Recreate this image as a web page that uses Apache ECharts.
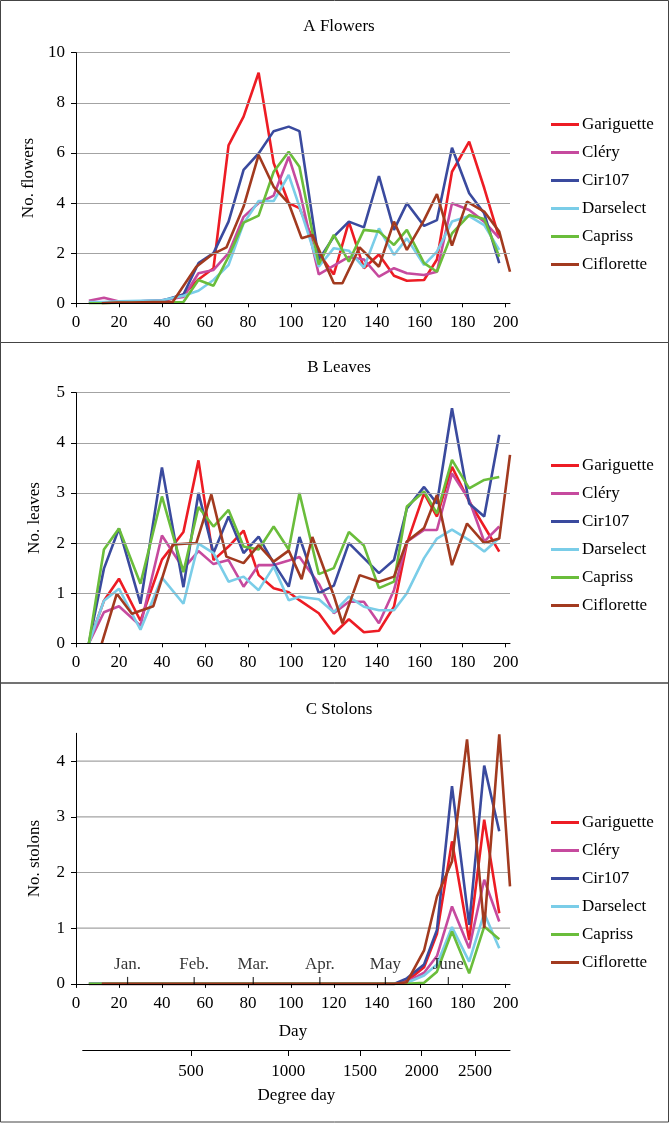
<!DOCTYPE html>
<html><head><meta charset="utf-8">
<script src="https://cdn.jsdelivr.net/npm/echarts@6/dist/echarts.min.js"></script>
<style>html,body{margin:0;padding:0;background:#fff}#c{width:670px;height:1123px}</style>
</head><body><div id="c"></div><script>
// ---- data ----
const varieties = ['Gariguette','Cléry','Cir107','Darselect','Capriss','Ciflorette'];
const days = [6,13,20,30,40,50,57,64,71,78,85,92,99,104,113,120,127,134,141,148,154,162,168,175,183,190,197];
const cifloretteDays = [12,19,26,36,45,56,63,70,78,85,92,99,105,110,120,124,132,141,148,154,162,168,175,182,190,197,202];

const gariguetteFlowers = [0.03,0.03,0.03,0.04,0.06,0.35,0.95,1.4,6.3,7.45,9.2,5.6,4.0,3.8,2.0,1.15,3.25,1.4,1.95,1.1,0.9,0.93,1.75,5.25,6.45,4.6,2.6];
const cleryFlowers = [0.1,0.22,0.07,0.08,0.12,0.25,1.2,1.33,2.0,3.45,4.0,4.3,5.85,4.5,1.15,1.5,1.85,1.75,1.06,1.4,1.2,1.13,1.26,3.99,3.72,3.26,2.6];
const cir107Flowers = [0.03,0.03,0.05,0.08,0.1,0.35,1.6,2.0,3.26,5.32,5.98,6.87,7.05,6.87,1.73,2.66,3.26,3.03,5.08,2.93,3.99,3.09,3.32,6.21,4.39,3.59,1.6];
const darselectFlowers = [0.05,0.05,0.08,0.1,0.12,0.3,0.5,0.93,1.53,3.19,4.08,4.08,5.12,3.86,1.46,2.2,2.1,1.42,2.99,1.93,2.59,1.53,2.06,3.26,3.48,3.12,2.13];
const caprissFlowers = [0,0,0.02,0.02,0.02,0.05,0.93,0.7,1.86,3.22,3.5,5.25,6.05,5.45,1.55,2.73,1.66,2.93,2.86,2.33,2.93,1.6,1.26,2.79,3.52,3.36,1.86];
const cifloretteFlowers = [0,0.03,0.03,0.05,0.05,1.46,1.93,2.23,3.86,5.92,4.65,3.99,2.6,2.73,0.8,0.8,2.23,1.46,3.26,2.13,3.32,4.36,2.3,4.06,3.66,2.86,1.26];

const gariguetteLeaves = [0,0.85,1.29,0.45,1.67,2.22,3.65,1.66,1.93,2.25,1.36,1.1,1.02,0.86,0.6,0.19,0.48,0.22,0.25,0.73,1.99,2.99,2.53,3.52,2.83,2.33,1.83];
const cleryLeaves = [0,0.62,0.74,0.35,2.15,1.49,1.84,1.58,1.66,1.13,1.56,1.56,1.65,1.72,1.19,0.6,0.83,0.83,0.4,1.06,2.03,2.26,2.26,3.39,2.86,2.03,2.33];
const cir107Leaves = [0,1.49,2.29,0.79,3.51,1.12,3.0,1.8,2.53,1.8,2.13,1.6,1.13,2.12,1.0,1.15,2.0,1.7,1.4,1.66,2.69,3.12,2.79,4.69,2.79,2.53,4.16];
const darselectLeaves = [0,0.85,1.09,0.27,1.31,0.79,1.99,1.8,1.23,1.33,1.06,1.53,0.86,0.93,0.88,0.62,0.93,0.73,0.66,0.66,1.0,1.7,2.09,2.27,2.06,1.83,2.1];
const caprissLeaves = [0,1.87,2.29,1.19,2.93,1.42,2.72,2.33,2.66,1.93,1.87,2.33,1.87,3.0,1.38,1.5,2.22,1.95,1.1,1.23,2.73,3.03,2.59,3.66,3.09,3.26,3.32];
const cifloretteLeaves = [0,0.99,0.59,0.74,1.97,2.0,2.97,1.73,1.6,1.96,1.63,1.85,1.28,2.12,0.95,0.4,1.36,1.23,1.33,2.03,2.3,2.96,1.56,2.39,2.0,2.09,3.76];

const gariguetteStolons = [0,0,0,0,0,0,0,0,0,0,0,0,0,0,0,0,0,0,0,0,0.05,0.3,0.9,2.56,0.79,2.95,1.27];
const cleryStolons = [0,0,0,0,0,0,0,0,0,0,0,0,0,0,0,0,0,0,0,0,0.03,0.2,0.5,1.39,0.64,1.87,1.12];
const cir107Stolons = [0,0,0,0,0,0,0,0,0,0,0,0,0,0,0,0,0,0,0,0,0.1,0.35,0.97,3.55,1.06,3.92,2.74];
const darselectStolons = [0,0,0,0,0,0,0,0,0,0,0,0,0,0,0,0,0,0,0,0,0.02,0.15,0.35,1.02,0.4,1.27,0.64];
const caprissStolons = [0,0,0,0,0,0,0,0,0,0,0,0,0,0,0,0,0,0,0,0,0,0.02,0.22,0.94,0.19,1.03,0.8];
const cifloretteStolons = [0,0,0,0,0,0,0,0,0,0,0,0,0,0,0,0,0,0,0,0.03,0.6,1.57,2.2,4.39,1.0,4.48,1.75];

const dayTicks = [0,20,40,60,80,100,120,140,160,180,200];
const flowerTicks = [0,2,4,6,8,10];
const leafTicks = [0,1,2,3,4,5];
const stolonTicks = [0,1,2,3,4];
const monthDays = [24,55,82.5,113.5,144,173.3];
const monthNames = ['Jan.','Feb.','Mar.','Apr.','May','June'];
const degreeDayTickDays = [53.5,98.8,132.2,160.9,185.7];
const degreeDayLabels = ['500','1000','1500','2000','2500'];
const panelTitles = ['A Flowers','B Leaves','C Stolons'];
const yNames = ['No. flowers','No. leaves','No. stolons'];

// ---- chart ----
const FONT = '"Liberation Serif", "Times New Roman", serif';
const colors = ['#ED1C24','#C64A9E','#3A4A9E','#7ACDE8','#6ABD3B','#A23A1F'];
const GRID_COLOR = '#a3a3a3';
const txt = {fontFamily: FONT, fontSize: 17, color: '#000'};
const LEFT = 76, WIDTH = 434, HEIGHT = 250.6, XMAX = 202;
const panels = [
  {top: 52.7, yMax: 10, yInt: 2, ticks: flowerTicks,
   data: [gariguetteFlowers, cleryFlowers, cir107Flowers, darselectFlowers, caprissFlowers, cifloretteFlowers]},
  {top: 392.7, yMax: 5, yInt: 1, ticks: leafTicks,
   data: [gariguetteLeaves, cleryLeaves, cir107Leaves, darselectLeaves, caprissLeaves, cifloretteLeaves]},
  {top: 733.3, yMax: 4.5, yInt: 1, ticks: stolonTicks,
   data: [gariguetteStolons, cleryStolons, cir107Stolons, darselectStolons, caprissStolons, cifloretteStolons]}
];
const grid = [], xAxis = [], yAxis = [], series = [], legend = [], title = [];
panels.forEach((p, g) => {
  grid.push({left: LEFT, top: p.top, width: WIDTH, height: HEIGHT});
  xAxis.push({type: 'value', gridIndex: g, min: 0, max: XMAX, position: 'bottom', z: 3,
    axisLine: {onZero: false, lineStyle: {color: '#000', width: 1}},
    axisTick: {show: true, length: 4, customValues: dayTicks, lineStyle: {color: '#000'}},
    axisLabel: Object.assign({customValues: dayTicks, margin: 11}, txt),
    splitLine: {show: false},
    name: g === 2 ? 'Day' : '', nameLocation: 'middle', nameGap: 39, nameTextStyle: txt});
  yAxis.push({type: 'value', gridIndex: g, min: 0, max: p.yMax, interval: p.yInt, z: 3,
    axisLine: {show: true, lineStyle: {color: '#000', width: 1}},
    axisTick: {show: true, length: 5, customValues: p.ticks, lineStyle: {color: '#000'}},
    axisLabel: Object.assign({customValues: p.ticks, margin: 11}, txt),
    splitLine: {show: g !== 2, lineStyle: {color: GRID_COLOR, width: 1.2}},
    name: yNames[g], nameLocation: 'middle', nameGap: 33, nameTextStyle: txt});
  if (g === 2) {
    // panel C: horizontal reference lines at the tick values (the axis runs on to 4.5 without a line)
    p.ticks.filter(v => v > 0).forEach(v => {
      series.push({type: 'line', xAxisIndex: g, yAxisIndex: g, z: 1, silent: true,
        data: [[0, v], [XMAX, v]], symbol: 'none', showSymbol: false,
        lineStyle: {width: 1.2, color: GRID_COLOR}, emphasis: {disabled: true}, tooltip: {show: false}});
    });
  }
  varieties.forEach((v, k) => {
    const xs = k === 5 ? cifloretteDays : days;
    series.push({type: 'line', name: v, xAxisIndex: g, yAxisIndex: g, z: 2,
      data: xs.map((d, i) => [d, p.data[k][i]]),
      symbol: 'none', showSymbol: false, connectNulls: true,
      lineStyle: {width: 2.6, color: colors[k]}, itemStyle: {color: colors[k]},
      emphasis: {disabled: true}});
  });
  legend.push({orient: 'vertical', left: 546, top: [111, 452, 809][g], itemWidth: 28, itemHeight: 3,
    icon: 'rect', itemGap: 11, selectedMode: false, data: varieties,
    textStyle: Object.assign({padding: [0, 0, 0, -2]}, txt)});
  title.push({text: panelTitles[g], left: 334, top: [13, 354, 696][g], textAlign: 'center',
    textStyle: Object.assign({fontWeight: 'normal'}, txt)});
});

// month markers on the day axis of panel C: short upward ticks with the month name above
series.push({type: 'scatter', xAxisIndex: 2, yAxisIndex: 2, z: 4, silent: true, clip: false,
  data: monthDays.map(d => [d, 0]),
  symbol: 'rect', symbolSize: [1.2, 7], symbolOffset: [0, -3.5],
  itemStyle: {color: '#000'},
  label: Object.assign({show: true, position: 'top', distance: 4,
    formatter: q => monthNames[q.dataIndex]}, txt),
  emphasis: {disabled: true}});

// degree-day axis
grid.push({left: 82.7, top: 1049, width: 427.3, height: 1});
xAxis.push({type: 'value', gridIndex: 3, min: 3.1, max: XMAX, position: 'bottom',
  axisLine: {onZero: false, lineStyle: {color: '#000', width: 1}},
  axisTick: {show: true, length: 6, customValues: degreeDayTickDays, lineStyle: {color: '#000'}},
  axisLabel: Object.assign({customValues: degreeDayTickDays, margin: 13,
    formatter: v => degreeDayLabels[degreeDayTickDays.indexOf(v)]}, txt),
  splitLine: {show: false},
  name: 'Degree day', nameLocation: 'middle', nameGap: 37, nameTextStyle: txt});
yAxis.push({type: 'value', gridIndex: 3, show: false, min: 0, max: 1});

const frame = (y, h) => ({type: 'rect', shape: {x: 0.5, y: y, width: 668, height: h}, silent: true,
  style: {fill: 'none', stroke: '#444', lineWidth: 1}});
const chart = echarts.init(document.getElementById('c'), null, {renderer: 'canvas'});
chart.setOption({
  animation: false, backgroundColor: '#fff',
  title, legend, grid, xAxis, yAxis, series,
  graphic: [frame(0.5, 342), frame(342.5, 340.5), frame(683, 439)]
});
</script></body></html>
